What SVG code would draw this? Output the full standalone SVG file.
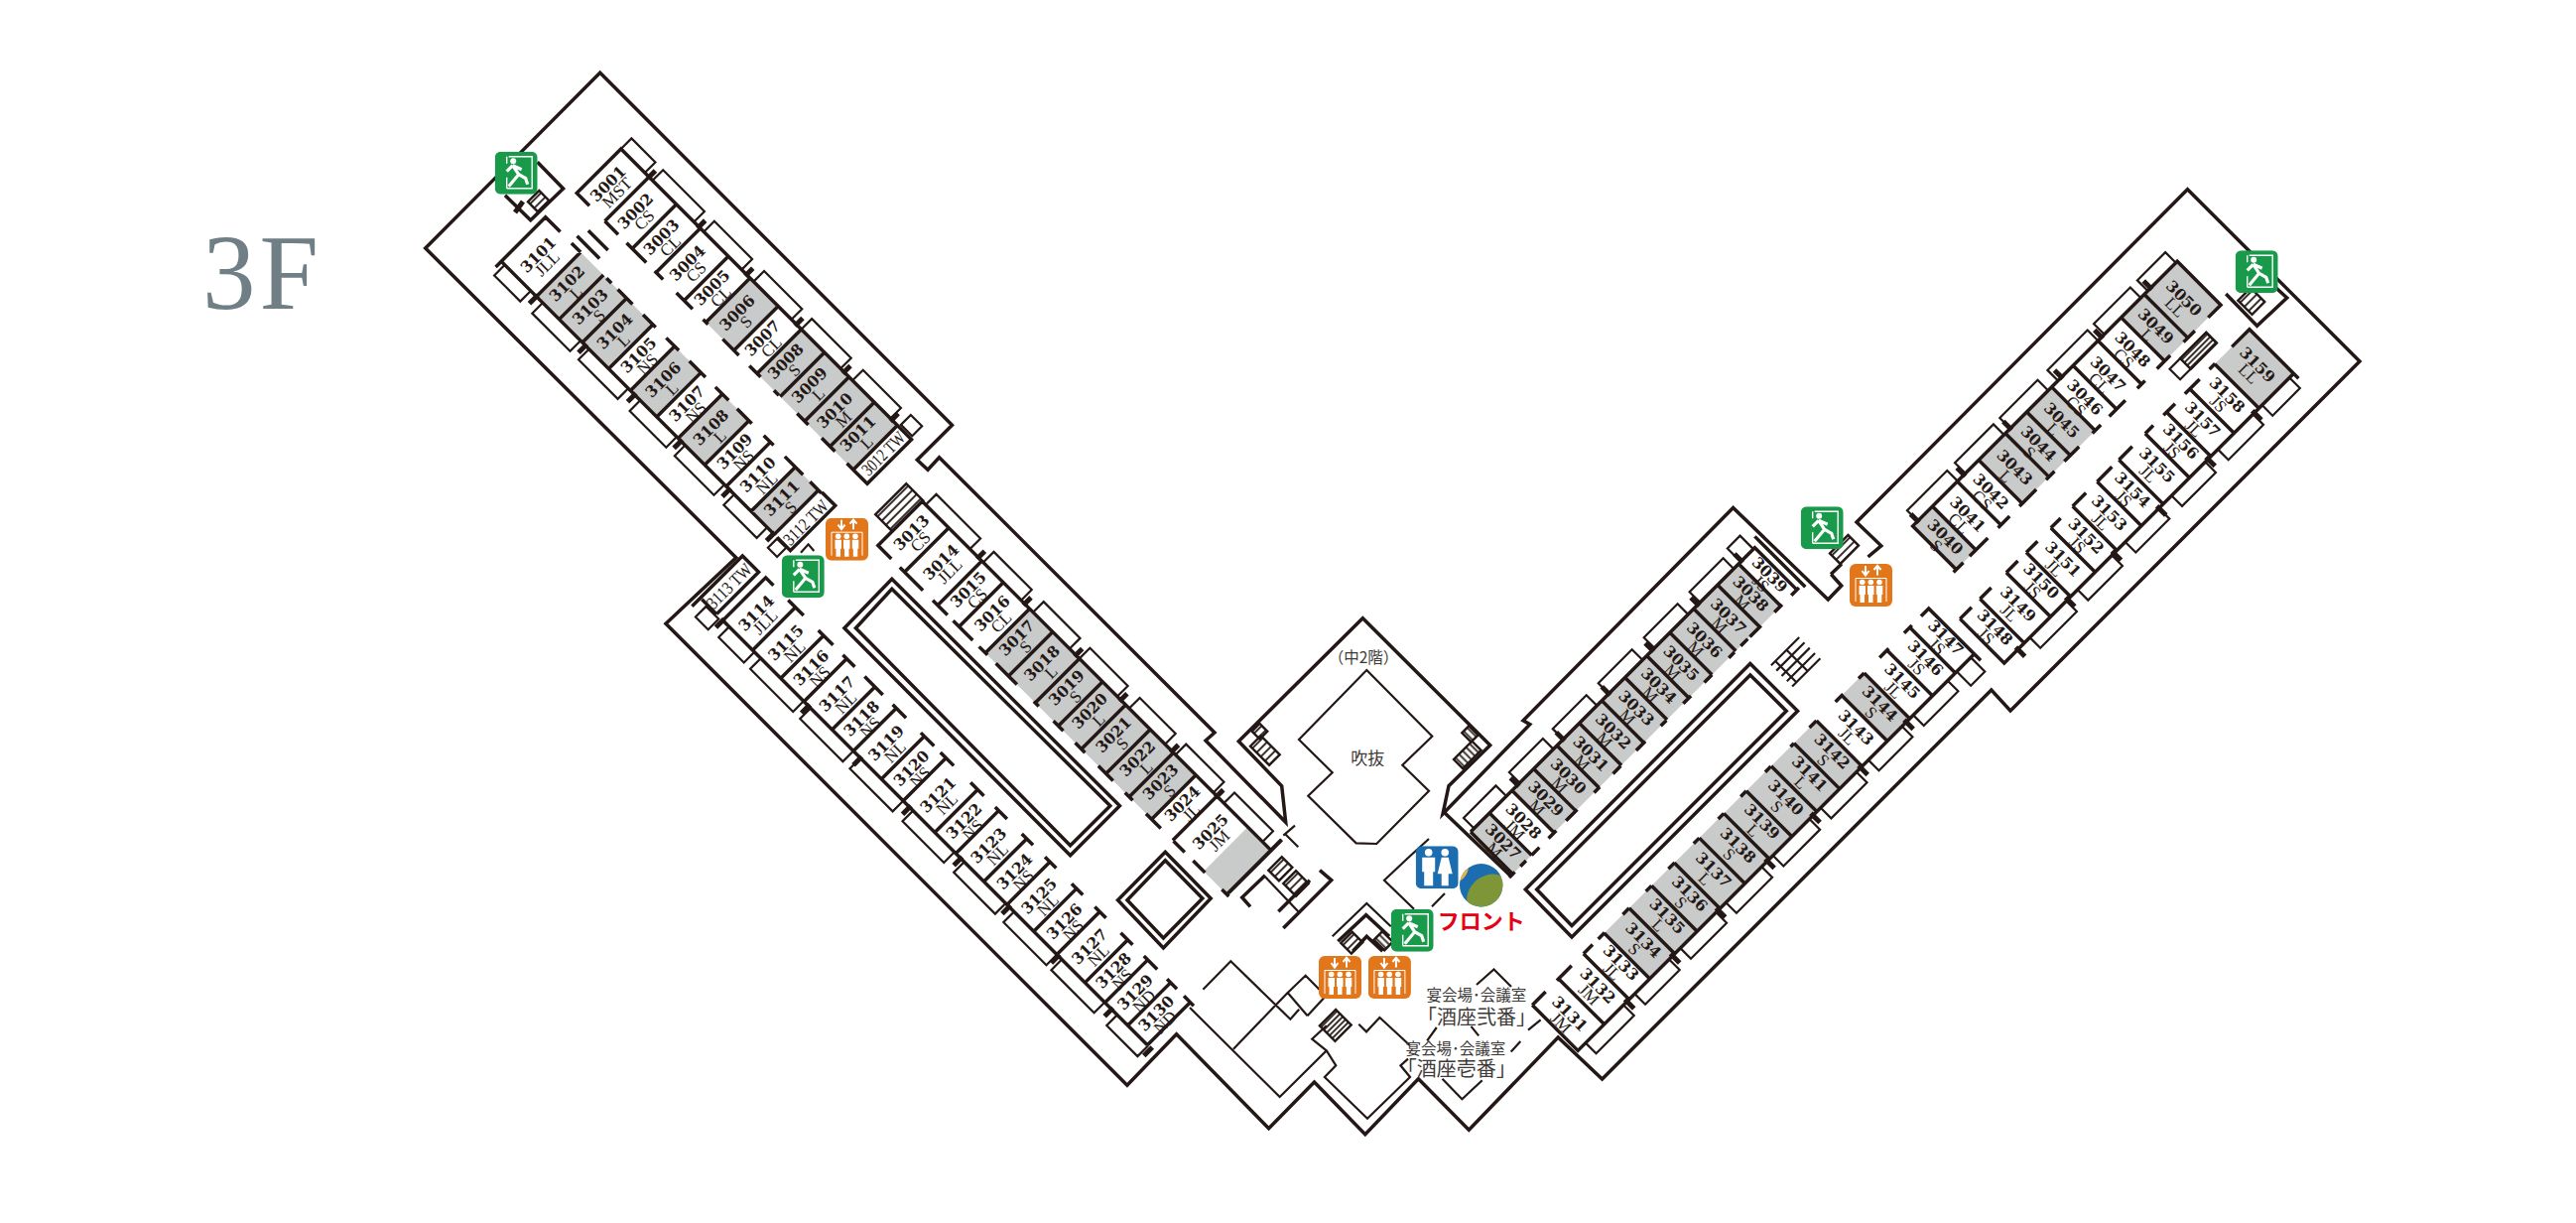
<svg xmlns="http://www.w3.org/2000/svg" width="2596" height="1232" viewBox="0 0 2596 1232">
<style>
.w{fill:none;stroke:#231815;stroke-width:3.5;stroke-linejoin:miter}
.t{fill:none;stroke:#231815;stroke-width:2.2}
.s{fill:none;stroke:#231815;stroke-width:5}
.g{fill:#c9caca}
.n{font:bold 15.5px "DejaVu Serif",serif;text-anchor:middle;fill:#231815}
.l{font:17px "Liberation Serif",serif;text-anchor:middle;fill:#231815}
.tw{font:18px "Liberation Serif",serif;text-anchor:middle;fill:#231815}
.j{font:15.5px "Noto Sans CJK JP",sans-serif;text-anchor:middle;fill:#3e3a39}
.k{font:20px "Noto Sans CJK JP",sans-serif;text-anchor:middle;fill:#3e3a39}
.st{fill:url(#r);stroke:#231815;stroke-width:2.4}
.sd{fill:url(#rd);stroke:#231815;stroke-width:2.4}
.sv{fill:url(#rv);stroke:#231815;stroke-width:2.4}
</style>
<defs>
<pattern id="r" width="6" height="6" patternUnits="userSpaceOnUse"><path d="M0,3H6" stroke="#231815" stroke-width="1.8"/></pattern>
<pattern id="rd" width="4" height="4" patternUnits="userSpaceOnUse"><path d="M0,2H4" stroke="#231815" stroke-width="1.8"/></pattern>
<pattern id="rv" width="5" height="5" patternUnits="userSpaceOnUse"><path d="M2.5,0V5" stroke="#231815" stroke-width="1.8"/></pattern>
<clipPath id="lc"><circle cx="1492.7" cy="891.7" r="21.7"/></clipPath>
<symbol id="exit" width="43" height="43" viewBox="0 0 43 43">
<rect width="43" height="43" rx="6" fill="#189a4a"/>
<path d="M14,5H37.5V37H12M12,5V12M12,26V37" fill="none" stroke="#fff" stroke-width="1.4"/>
<circle cx="18.5" cy="9.5" r="3" fill="#fff"/>
<path d="M18,14L24,23L31,27L33,33M24,23L19,29L14,35M18,14L12,20M18,14L27,18" fill="none" stroke="#fff" stroke-width="3.2"/>
</symbol>
<symbol id="lift" width="43" height="43" viewBox="0 0 43 43">
<rect width="43" height="43" rx="6" fill="#e2761b"/>
<path d="M16,2V10M12.5,7L16,11.5L19.5,7M28,11.5V3M24.5,6L28,1.8L31.5,6" fill="none" stroke="#fff" stroke-width="2"/>
<path d="M6,38V14.5H37V38" fill="none" stroke="#fff" stroke-width="1"/>
<g fill="#fff"><circle cx="12.7" cy="18.5" r="2.8"/><circle cx="21.3" cy="18.5" r="2.8"/><circle cx="30" cy="18.5" r="2.8"/>
<path d="M9.5,22H16V31H15V39H10.5V31H9.5ZM18,22H24.5V31H23.5V39H19V31H18ZM26.8,22H33.3V31H32.3V39H27.8V31H26.8Z"/></g>
</symbol>
<symbol id="wc" width="43" height="43" viewBox="0 0 43 43">
<rect width="43" height="43" rx="6" fill="#1b6db0"/>
<g fill="#fff"><circle cx="13" cy="6.5" r="3.8"/><circle cx="29.5" cy="6.5" r="3.8"/>
<path d="M6.5,11.5H19.5V26H17.5V40H8.5V26H6.5Z"/><path d="M26,11.5H33L37,28H33V40H26V28H22Z"/></g>
</symbol>
</defs>

<text id="floor" x="204" y="311" font-family="'Liberation Serif',serif" font-size="107" letter-spacing="4" fill="#6f7f85">3F</text>

<g id="walls">
<path class="w" d="M1845.3,578.5L1855.7,590L1842.3,604L1746.6,511.5L1535,725.8L1541.8,729.6L1454,820L1460,791.7L1501.7,750.7L1373.3,622.7L1248.3,746.7L1291.7,791.7L1295.7,828.3L1215,746L1224,738L946.5,460.7L935,473.3L924.3,463.3L959.5,428.3L604.7,73.3L428.7,250L741.8,561.7L671,628.3L1135.9,1093.3L1185.6,1041.7L1278.6,1136.7L1324.5,1090L1375.8,1142.7L1429.4,1086.7L1480.3,1138.3L1570.2,1045L1614.6,1087L2006.8,695L2026,716L2378,364L2204.5,190.7L1871,526L1895.8,549.8L1882.5,561"/>
<path class="w" d="M1845,578.5L1856,568M1454,817L1522.7,882.7"/>
<path class="w" d="M541.6,163.3L567.6,190L534.7,221.7L509,196.7"/>
<path class="w" d="M2243.2,296L2274.6,328.3L2304.7,300L2293.7,290"/>
<path class="w" d="M898.8,583.3L1128.4,811.7L1078.6,861.7L850.9,632.7Z"/>
<path class="w" d="M898.8,593.3L1118.8,811.7L1078.6,851.7L862.4,632.7Z"/>
<path class="w" d="M1174.3,858.3L1220.2,905L1172.4,955L1126.5,906.7Z"/>
<path class="w" d="M1174.3,866.7L1211.8,905L1172.4,945L1136,906.7Z"/>
<path class="w" d="M1763.8,668.4L1811.6,716.2L1584,944L1537.3,896Z"/>
<path class="w" d="M1763.8,679.9L1800.2,716.2L1584,932.5L1548.7,896Z"/>
<path class="t" d="M1377.3,675L1443.3,741.7L1413.3,770.7L1440,796.7L1387.3,850L1366.7,849.3L1318.3,801.7L1342.7,778.3L1309,745Z"/>
<path class="w" d="M1238.3,899.3L1291.7,846M1260,913.3L1251.7,904L1275,881.7M1288.3,918.3L1320,886.7M1330,876.7L1341.7,886.7L1293.3,935"/>
<path class="t" d="M1275,883.3L1308.3,918.3M1295,840L1308.3,853.3M1293.3,841.7L1305,831.7"/>
<path class="t" d="M1342.7,943.3L1377.3,910L1401.7,933.3"/>
<path class="w" d="M1348.3,948.3L1376.7,921.7L1400,943.3M1363.3,958.3L1377.3,943.3L1393.3,958.3"/>
<path class="t" d="M1212.4,996.7L1240.3,968.3L1300.4,1026.7L1309.2,1016.7M1317.6,1023.3L1297.7,1000L1315.7,982.7L1336,1003.3L1317.6,1023.3M1243,1056.7L1297.7,1000M1199,1015L1289.7,1105L1336.8,1058.3L1322.2,1046.7L1336.8,1033.3M1336.8,1058.3L1346.3,1073.3L1334.9,1085L1378,1126.7L1421,1085L1411.4,1073.3L1419,1066.7M1369.3,1031.7L1377,1039.3L1390.4,1025L1421,1053.3M1438.2,1048.3L1447.8,1035M1482.5,1033.9L1490.2,1043.4M1488,992L1505.5,976.5L1523,994M1453.5,1086.7L1473.4,1107.3L1493.7,1088.3M1522.7,1059.5L1532.3,1049M1540,1037.7L1552.6,1027.4"/>
<path class="t" d="M1440,845L1420,863.3L1395,886.7L1425,915.7M1456,900L1443,913.3M807,556.7L814.6,548.3L820.3,555"/>
</g>

<g id="stairs">
<rect class="st" transform="translate(532,203.3) rotate(-45)" width="16" height="14"/>
<path class="s" d="M519,214L527,203"/>
<rect class="st" transform="translate(882.2,518.3) rotate(-45)" width="44" height="24"/>
<rect class="st" transform="translate(1278.3,876.7) rotate(-45)" width="19" height="15"/>
<rect class="st" transform="translate(1293.3,890) rotate(-45)" width="18" height="18"/>
<rect class="st" transform="translate(1351.3,950) rotate(-45)" width="16" height="15"/>
<rect class="sv" transform="translate(1384.6,946.7) rotate(-45)" width="12" height="15"/>
<rect class="sd" transform="translate(1329.9,1033.3) rotate(-45)" width="23" height="22"/>
<rect class="st" transform="translate(1261.7,736.7) rotate(-45)" width="11" height="11"/>
<rect class="st" transform="translate(1260,751.7) rotate(-45)" width="15" height="27"/>
<rect class="sv" transform="translate(1473.3,738.3) rotate(-45)" width="10" height="13"/>
<rect class="sv" transform="translate(1465,765) rotate(-45)" width="26" height="13"/>
<path class="t" transform="translate(1784.9,670.3) rotate(-45)" d="M0,0H40M0,7.5H40M0,15H40M0,22.5H40M0,30H40M6,0V30M22,0V30"/>
<rect class="st" transform="translate(1844,557.4) rotate(-45)" width="26" height="15"/>
<rect class="st" transform="translate(2255.4,302.7) rotate(-45)" width="18" height="20"/>
<g transform="translate(2186.5,371.7) rotate(-45)"><rect class="t" width="52" height="15"/><rect class="sd" x="15" width="37" height="15"/></g>
</g>

<g id="rowA" transform="translate(625.8,150) rotate(-45)">
<rect class="g" x="-63" y="184" width="63" height="40"/><rect class="g" x="-63" y="257" width="63" height="137"/>
<path class="w" d="M-63,18V0H0V394M-63,40H0M-63,79H0M-63,113H0M-63,153H0M-63,184H0M-63,224H0M-63,257H0M-63,290H0M-63,325H0M-63,361H0M-63,394H0M-63,40V59M-63,71V99M-63,111V123M-63,142V165M-63,180V187M-63,208V231M-63,246V262M-63,281V288M-63,314V330M-63,349V368M-63,385V399M-63,394V414H0V394"/>
<path class="t" d="M0,0H15V34H0M0,45H15V104H0M0,118H15V172H0M0,189H15V243H0M0,257H15V313H0M0,330H15V384H0M3,396H17V412H3Z"/>
<path class="s" d="M-2,40H9M-2,111H9M-2,179H9M-2,250H9M-2,318H9M-2,386H9"/>
<g transform="translate(-34,0)">
<text class="n" y="21">3001</text><text class="l" y="34">MST</text>
<text class="n" y="60">3002</text><text class="l" y="73">CS</text>
<text class="n" y="97">3003</text><text class="l" y="110">CL</text>
<text class="n" y="134">3004</text><text class="l" y="147">CS</text>
<text class="n" y="169">3005</text><text class="l" y="182">CL</text>
<text class="n" y="205">3006</text><text class="l" y="218">S</text>
<text class="n" y="241">3007</text><text class="l" y="254">CL</text>
<text class="n" y="274">3008</text><text class="l" y="287">S</text>
<text class="n" y="308">3009</text><text class="l" y="321">L</text>
<text class="n" y="344">3010</text><text class="l" y="357">M</text>
<text class="n" y="377">3011</text><text class="l" y="390">L</text>
<text class="tw" y="410" x="4" textLength="54" lengthAdjust="spacingAndGlyphs">3012 TW</text>
</g>
</g>

<g id="rowB" transform="translate(505.2,263.3) rotate(-45)">
<rect class="g" y="50" width="63" height="103"/><rect class="g" y="184" width="63" height="37.5"/><rect class="g" y="252" width="63" height="38"/><rect class="g" y="356" width="63" height="33"/>
<path class="w" d="M63,21V0H-8M0,0V389M0,50H63M0,82.5H63M0,115.5H63M0,153H63M0,184H63M0,221.5H63M0,252H63M0,290H63M0,320.5H63M0,356H63M0,389H63M63,37V50M72,36V68M84,40V68M63,87V94M63,103V124M63,139V157M63,172V190M63,205V228M63,242V261M63,273V294M63,311V325M63,341V367M63,377V393M0,393V412H64V393"/>
<path class="t" d="M0,5H-15V42H0M0,59H-15V113H0M0,125H-15V181H0M0,198H-15V250H0M0,262H-15V318H0M0,332H-15V379H0M-1,394H-14V407H-1Z"/>
<path class="s" d="M-10,50H2M-10,120H2M-10,190H2M-10,256H2M-10,325H2M-10,388H2"/>
<g transform="translate(31,0)">
<text class="n" y="27">3101</text><text class="l" y="40">JLL</text>
<text class="n" y="68">3102</text><text class="l" y="81">L</text>
<text class="n" y="101">3103</text><text class="l" y="114">S</text>
<text class="n" y="136">3104</text><text class="l" y="149">L</text>
<text class="n" y="170">3105</text><text class="l" y="183">NS</text>
<text class="n" y="205">3106</text><text class="l" y="218">L</text>
<text class="n" y="239">3107</text><text class="l" y="252">NS</text>
<text class="n" y="273">3108</text><text class="l" y="286">L</text>
<text class="n" y="307">3109</text><text class="l" y="320">NS</text>
<text class="n" y="340">3110</text><text class="l" y="353">NL</text>
<text class="n" y="374">3111</text><text class="l" y="387">S</text>
<text class="tw" y="409" textLength="56" lengthAdjust="spacingAndGlyphs">3112 TW</text>
</g>
</g>

<g id="rowC" transform="translate(929.4,505) rotate(-45)">
<rect class="g" x="-63" y="153" width="63" height="237"/><rect class="g" x="-63" y="464" width="63" height="33"/>
<path class="w" d="M-63,19V0H0V497M-63,37.7H0M-63,85H0M-63,115.5H0M-63,153H0M-63,186H0M-63,224H0M-63,257H0M-63,290H0M-63,325H0M-63,358H0M-63,390H0M-63,420H0M-63,497H15M-63,31V64M-63,78V99M-63,107V135M-63,144V156M-63,168V198M-63,222V229M-63,250V264M-63,281V295M-63,314V335M-63,352V363M-63,382V403M-63,421V437M-63,449V466M-63,490V500"/>
<path class="t" d="M0,5H15V68H0M0,87H15V141H0M0,158H15V210H0M0,224H15V278H0M0,295H15V346H0M0,361H15V415H0M0,430H15V485H0"/>
<path class="s" d="M-2,80H9M-2,146H9M-2,219H9M-2,283H9M-2,356H9M-2,420H9"/>
<g transform="translate(-30,0)">
<text class="n" y="20">3013</text><text class="l" y="33">CS</text>
<text class="n" y="62">3014</text><text class="l" y="75">JLL</text>
<text class="n" y="101">3015</text><text class="l" y="114">CS</text>
<text class="n" y="135">3016</text><text class="l" y="148">CL</text>
<text class="n" y="170">3017</text><text class="l" y="183">S</text>
<text class="n" y="206">3018</text><text class="l" y="219">L</text>
<text class="n" y="241">3019</text><text class="l" y="254">S</text>
<text class="n" y="274">3020</text><text class="l" y="287">L</text>
<text class="n" y="308">3021</text><text class="l" y="321">S</text>
<text class="n" y="342">3022</text><text class="l" y="355">L</text>
<text class="n" y="375">3023</text><text class="l" y="388">S</text>
<text class="n" y="406">3024</text><text class="l" y="419">JL</text>
<text class="n" y="446">3025</text><text class="l" y="459">JM</text>
</g>
</g>

<g id="rowD" transform="translate(728.5,625) rotate(-45)">
<path class="w" d="M61,11V0H0V605M0,42.4H61M0,82.5H61M0,115.5H61M0,155.6H61M0,186H61M0,226H61M0,257H61M0,302H61M0,332H61M0,372H61M0,405H61M0,443H61M0,476H61M0,516H61M0,544.5H61M0,577H61M0,605H61M61,32V54M61,75V96M61,110V127M61,141V167M61,181V200M61,221V240M61,249V268M61,292V311M61,327V344M61,365V381M61,398V414M61,436V452M61,469V485M61,506V523M61,539V558M61,572V586M61,596V610M-12,-32H60V-9H0M0,-30V-9"/>
<path class="t" d="M-2,-22H-17V-4H-2ZM0,9H-15V45H0M0,54H-15V115H0M0,125H-15V186H0M0,196H-15V257H0M0,271H-15V330H0M0,344H-15V403H0M0,415H-15V476H0M0,483H-15V544H0M0,562H-15V606H0"/>
<path class="s" d="M-10,0H2M-10,122H2M-10,196H2M-10,266H2M-10,339H2M-10,408H2M-10,478H2M-10,554H2M-10,610H2"/>
<g transform="translate(29,0)">
<text class="tw" y="-14" textLength="56" lengthAdjust="spacingAndGlyphs">3113 TW</text>
<text class="n" y="24">3114</text><text class="l" y="37">JLL</text>
<text class="n" y="66">3115</text><text class="l" y="79">NL</text>
<text class="n" y="102">3116</text><text class="l" y="115">NS</text>
<text class="n" y="139">3117</text><text class="l" y="152">NL</text>
<text class="n" y="174">3118</text><text class="l" y="187">NS</text>
<text class="n" y="209">3119</text><text class="l" y="222">NL</text>
<text class="n" y="245">3120</text><text class="l" y="258">NS</text>
<text class="n" y="283">3121</text><text class="l" y="296">NL</text>
<text class="n" y="320">3122</text><text class="l" y="333">NS</text>
<text class="n" y="355">3123</text><text class="l" y="368">NL</text>
<text class="n" y="392">3124</text><text class="l" y="405">NS</text>
<text class="n" y="427">3125</text><text class="l" y="440">NL</text>
<text class="n" y="463">3126</text><text class="l" y="476">NS</text>
<text class="n" y="499">3127</text><text class="l" y="512">NL</text>
<text class="n" y="533">3128</text><text class="l" y="546">NS</text>
<text class="n" y="564">3129</text><text class="l" y="577">ND</text>
<text class="n" y="594">3130</text><text class="l" y="607">ND</text>
</g>
</g>

<g id="rowE" transform="translate(1768.4,551.7) rotate(45)">
<rect class="g" y="23" width="60" height="323"/><rect class="g" y="378" width="60" height="27"/>
<path class="w" d="M60,0H0V405M-8,-8H64M0,23H60M0,53H60M0,87H60M0,121H60M0,154H60M0,185H60M0,218H60M0,250H60M0,282H60M0,315H60M0,346H60M0,378H60M0,405H60M60,-3V8M60,21V32M60,51V67M60,70V80M60,89V97M60,121V132M60,151V162M60,186V194M60,216V229M60,251V262M60,281V289M60,313V329M60,343V354M60,367V378M60,386V394M60,402V410"/>
<path class="t" d="M0,2H-19V20H0M0,30H-15V78H0M0,95H-15V143H0M0,160H-15V208H0M0,225H-15V273H0M0,287H-15V335H0M0,354H-15V400H0"/>
<path class="s" d="M-10,19H2M-10,81H2M-10,146H2M-10,208H2M-10,273H2M-10,338H2"/>
<g transform="translate(30,0)">
<text class="n" y="14">3039</text><text class="l" y="27">JS</text>
<text class="n" y="41">3038</text><text class="l" y="54">M</text>
<text class="n" y="73">3037</text><text class="l" y="86">M</text>
<text class="n" y="107">3036</text><text class="l" y="120">M</text>
<text class="n" y="140">3035</text><text class="l" y="153">M</text>
<text class="n" y="172">3034</text><text class="l" y="185">M</text>
<text class="n" y="204">3033</text><text class="l" y="217">M</text>
<text class="n" y="237">3032</text><text class="l" y="250">M</text>
<text class="n" y="269">3031</text><text class="l" y="282">M</text>
<text class="n" y="301">3030</text><text class="l" y="314">M</text>
<text class="n" y="333">3029</text><text class="l" y="346">M</text>
<text class="n" y="365">3028</text><text class="l" y="378">JM</text>
<text class="n" y="394">3027</text><text class="l" y="407">M</text>
</g>
</g>

<g id="rowF" transform="translate(2194.2,263.3) rotate(45)">
<rect class="g" width="62" height="80"/><rect class="g" y="179" width="62" height="104"/><rect class="g" y="349" width="62" height="28"/>
<path class="w" d="M62,18V0H0V377H62M0,47H62M0,80H62M0,113H62M0,148.5H62M0,179H62M0,214.5H62M0,245H62M0,283H62M0,313.5H62M0,349H62M62,37V53M62,72V91M62,108V119M62,136V159M62,171V183M62,202V223M62,237V249M62,263V287M62,301V317.5M62,332V358M62,367V381"/>
<path class="t" d="M0,2H-15V42H0M0,52H-15V104H0M0,113H-15V170H0M0,184H-15V238H0M0,247H-15V302H0M0,313H-15V370H0"/>
<path class="s" d="M-10,38H2M-10,108H2M-10,165H2M-10,238H2M-10,304H2M-10,370H2"/>
<g transform="translate(31,0)">
<text class="n" y="27">3050</text><text class="l" y="40">LL</text>
<text class="n" y="67">3049</text><text class="l" y="80">L</text>
<text class="n" y="100">3048</text><text class="l" y="113">CS</text>
<text class="n" y="135">3047</text><text class="l" y="148">CL</text>
<text class="n" y="168">3046</text><text class="l" y="181">CS</text>
<text class="n" y="201">3045</text><text class="l" y="214">L</text>
<text class="n" y="234">3044</text><text class="l" y="247">S</text>
<text class="n" y="268">3043</text><text class="l" y="281">L</text>
<text class="n" y="302">3042</text><text class="l" y="315">CS</text>
<text class="n" y="335">3041</text><text class="l" y="348">CL</text>
<text class="n" y="367">3040</text><text class="l" y="380">S</text>
</g>
</g>

<g id="rowG" transform="translate(1943.7,612.9) rotate(45)">
<rect class="g" y="92" width="65" height="32"/><rect class="g" y="160" width="65" height="302.5"/>
<path class="w" d="M0,11V0H74M65,0V565H0M0,27H65M0,59.5H65M0,92H65M0,124H65M0,160H65M0,192H65M0,224.5H65M0,260H65M0,292H65M0,327H65M0,362.5H65M0,395H65M0,427H65M0,462.5H65M0,492H65M0,527.5H65M0,565V546M0,24V35M0,57V70M0,92V100M0,122V133M0,160V170M0,192V197M0,225V233M0,260V268M0,292V300M0,327V335M0,362V371M0,395V403M0,427V436M0,462V471M0,479V492M0,509V530"/>
<path class="t" d="M65,5H85V25H65ZM65,38H80V87H65M65,103H80V151H65M65,168H80V219H65M65,235H80V287H65M65,303H80V354H65M65,368H80V419H65M65,435H80V484H65M65,500H80V554H65"/>
<path class="s" d="M62,97H75M62,162H75M62,230H75M62,295H75M62,365H75M62,430H75M62,495H75"/>
<g transform="translate(33,0)">
<text class="n" y="14">3147</text><text class="l" y="27">JS</text>
<text class="n" y="43">3146</text><text class="l" y="56">JS</text>
<text class="n" y="76">3145</text><text class="l" y="89">JL</text>
<text class="n" y="108">3144</text><text class="l" y="121">S</text>
<text class="n" y="142">3143</text><text class="l" y="155">JL</text>
<text class="n" y="176">3142</text><text class="l" y="189">S</text>
<text class="n" y="208">3141</text><text class="l" y="221">L</text>
<text class="n" y="242">3140</text><text class="l" y="255">S</text>
<text class="n" y="276">3139</text><text class="l" y="289">L</text>
<text class="n" y="310">3138</text><text class="l" y="323">S</text>
<text class="n" y="345">3137</text><text class="l" y="358">L</text>
<text class="n" y="379">3136</text><text class="l" y="392">S</text>
<text class="n" y="411">3135</text><text class="l" y="424">L</text>
<text class="n" y="445">3134</text><text class="l" y="458">S</text>
<text class="n" y="477">3133</text><text class="l" y="490">JL</text>
<text class="n" y="510">3132</text><text class="l" y="523">JM</text>
<text class="n" y="550">3131</text><text class="l" y="563">JM</text>
</g>
</g>

<g id="rowH" transform="translate(2266.9,331.7) rotate(45)">
<rect class="g" width="63" height="49.5"/>
<path class="w" d="M0,25V0H70M63,0V412.5H0M0,49.5H63M0,85H63M0,118H63M0,148.5H63M0,186H63M0,217H63M0,252H63M0,283H63M0,318H63M0,346.5H63M0,384H63M0,49V57M0,71V92M0,106V122.5M0,137V148.5M0,167V186M0,196V217M0,233V252M0,269V283M0,302V318M0,330V346.5M0,368V384M0,396V412.5"/>
<path class="t" d="M63,6H78V45H63M63,58H78V108H63M63,126H78V174H63M63,192H78V240H63M63,259H78V308H63M63,324H78V376H63"/>
<path class="s" d="M60,56H73M60,122H73M60,192H73M60,256H73M60,322H73M60,393H73"/>
<g transform="translate(31,0)">
<text class="n" y="25">3159</text><text class="l" y="38">LL</text>
<text class="n" y="68">3158</text><text class="l" y="81">JS</text>
<text class="n" y="103">3157</text><text class="l" y="116">JL</text>
<text class="n" y="134">3156</text><text class="l" y="147">JS</text>
<text class="n" y="168">3155</text><text class="l" y="181">JL</text>
<text class="n" y="203">3154</text><text class="l" y="216">JS</text>
<text class="n" y="236">3153</text><text class="l" y="249">JL</text>
<text class="n" y="269">3152</text><text class="l" y="282">JS</text>
<text class="n" y="302">3151</text><text class="l" y="315">JL</text>
<text class="n" y="333">3150</text><text class="l" y="346">JS</text>
<text class="n" y="366">3149</text><text class="l" y="379">JL</text>
<text class="n" y="399">3148</text><text class="l" y="412">JS</text>
</g>
</g>

<g id="labels">
<text class="j" x="1374" y="668">（中2階）</text>
<text class="j" x="1378.3" y="770" style="font-size:17px">吹抜</text>
<text class="j" x="1488" y="1008">宴会場･会議室</text>
<text class="k" x="1488" y="1032">「酒座弐番」</text>
<text class="j" x="1467" y="1062">宴会場･会議室</text>
<text class="k" x="1467.7" y="1084">「酒座壱番」</text>
<text x="1492.7" y="936" text-anchor="middle" font-family="'Noto Sans CJK JP',sans-serif" font-weight="700" font-size="22" fill="#e60012">フロント</text>
</g>

<g id="icons">
<use href="#exit" x="498.7" y="152.7"/>
<use href="#exit" x="787.8" y="559.3"/>
<use href="#exit" x="1401.7" y="915.7"/>
<use href="#exit" x="1814.7" y="510.3"/>
<use href="#exit" x="2252.7" y="252.3"/>
<use href="#lift" x="832" y="521.7"/>
<use href="#lift" x="1329" y="963"/>
<use href="#lift" x="1378.9" y="963"/>
<use href="#lift" x="1864" y="568"/>
<use href="#wc" x="1426.7" y="852.3"/>
<g id="front-logo" clip-path="url(#lc)">
<rect x="1470" y="869" width="46" height="46" fill="#1b6db0"/>
<ellipse cx="1468" cy="868" rx="17" ry="14" fill="#e8b24a" transform="rotate(-30 1480 880)"/>
<ellipse cx="1501" cy="902" rx="24" ry="20" fill="#7f9638" transform="rotate(-35 1501 902)"/>
</g>
</g>
</svg>
